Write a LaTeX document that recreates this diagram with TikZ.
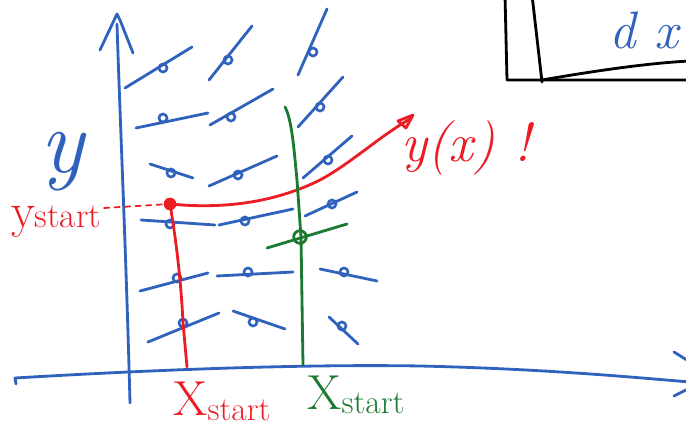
\documentclass[tikz,border=0pt]{standalone}
\usepackage{tikz}
\definecolor{PenBlue}{HTML}{2F62BD}
\definecolor{PenRed}{HTML}{EC1C24}
\definecolor{PenGreen}{HTML}{1B7A30}

\begin{document}
\begin{tikzpicture}[x=0.02cm, y=-0.02cm, line cap=round, line join=round, pen/.style={line width=1.6pt}, fld/.style={pen, PenBlue}, mid/.style={PenBlue, line width=1.5pt}, redpen/.style={pen, PenRed}, greenpen/.style={pen, PenGreen}, big/.style={font=\fontsize{31}{31}\selectfont\itshape}]
\useasboundingbox (0,0) rectangle (686,428);
\clip (0,0) rectangle (686,428);
% axes
\draw[fld] (130,403) .. controls (126,250) and (120,120) .. (117,24);
\draw[fld] (100,50) -- (117,14) -- (120,20) -- (133,53);
\draw[fld] (16,384) -- (15,378) .. controls (150,370) and (300,364) .. (420,366) .. controls (550,369) and (640,378) .. (690,382);
\draw[fld] (674,352) -- (690,362);
\draw[fld] (674,396) -- (690,388);
% box in the corner
\draw[pen, black] (505,-5) -- (507,80) -- (690,80);
\draw[pen, black] (532,-5) -- (542,82);
\draw[pen, black] (542,80) .. controls (600,70) and (650,63) .. (690,61);
\node[PenBlue, font=\fontsize{30}{30}\selectfont\itshape, anchor=east] (dx) at (684,30) {d x};
% slope field
\foreach \ax/\ay/\bx/\by/\cx/\cy in {125/88/192/47/163/68, 209/80/252/26/228/60, 298/75/327/9/313/52, 136/128/208/113/163/118, 210/125/273/89/231/117, 298/127/343/77/320/107, 150/164/193/178/171/173, 209/186/277/156/238/175, 303/178/352/136/328/160, 141/220/215/225/170/224, 219/225/293/209/245/221, 305/216/357/192/332/204, 140/291/208/273/177/278, 217/276/293/272/248/272, 320/269/377/281/344/272, 148/342/219/313/183/323, 233/311/285/329/253/322, 329/317/358/344/342/326}
{
  \draw[fld] (\ax,\ay) -- (\bx,\by);
  \draw[mid] (\cx,\cy) circle[radius=2.3pt];
}
\node[PenBlue, font=\fontsize{52}{52}\selectfont\itshape] (ylab) at (62,162) {y};
% red solution
\coordinate (ys) at (170,204);
\draw[redpen] (ys) .. controls (230,210) and (280,200) .. (320,180) .. controls (350,164) and (380,136) .. (410,119);
\draw[redpen] (398,121) -- (413,115) -- (406,128) -- cycle;
\draw[redpen] (ys) .. controls (176,240) and (181,280) .. (183,323) -- (187,367);
\fill[PenRed] (ys) circle[radius=3.6pt];
\node[PenRed, big] (yx) at (466,148) {y(x) !};
\node[PenRed] (ystart) at (56,222) {\fontsize{28}{28}\selectfont y\fontsize{20}{20}\selectfont start};
\draw[PenRed, line width=1pt, dashed] (104,208) -- (ys);
\node[PenRed] (xs1) at (222,401) {\fontsize{28}{28}\selectfont X\raisebox{-3pt}{\fontsize{19}{19}\selectfont start}};
% green line
\coordinate (gs) at (300,237);
\draw[greenpen] (285,107) .. controls (292,120) and (294,150) .. (297,180) -- (301,237) -- (303,365);
\draw[greenpen] (267,248) -- (347,224);
\draw[greenpen] (gs) circle[radius=3.6pt];
\node[PenGreen] (xs2) at (356,395) {\fontsize{28}{28}\selectfont X\raisebox{-2pt}{\fontsize{19}{19}\selectfont start}};
\end{tikzpicture}
\end{document}
